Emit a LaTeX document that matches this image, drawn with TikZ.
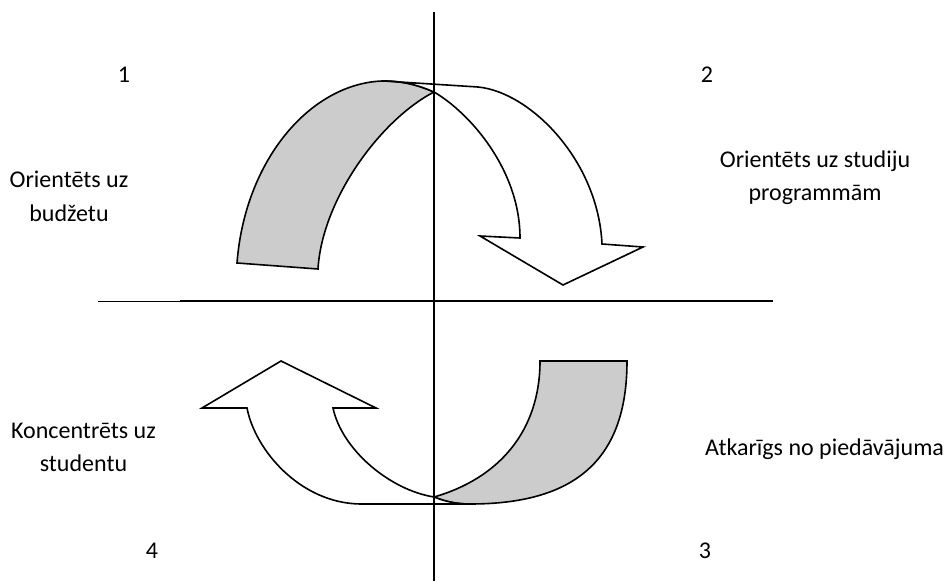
\documentclass[tikz,border=0pt]{standalone}
\usepackage{fontspec}
\setmainfont{Carlito}
\begin{document}
\begin{tikzpicture}[x=1pt,y=-1pt,
  lbl/.style={font=\fontsize{24}{33}\selectfont, inner sep=0pt},
  bl/.style={lbl, anchor=base},
  band/.style={draw=black, line width=1.6pt, line join=miter},
  axis/.style={draw=black, line width=1.4pt}]
\useasboundingbox (0,0) rectangle (947,585);
% top arrow: gray back side
\path[band, fill=black!20] (237,263) .. controls (245,160) and (310,84) .. (382,81)
  .. controls (405,81) and (420,86) .. (434,92)
  .. controls (380,120) and (322,200) .. (318,269) -- cycle;
% top arrow: white front
\path[band, fill=white] (384,81) -- (478,87) .. controls (530,92) and (598,160) .. (602,244)
  -- (643,247) -- (563,285) -- (480,236) -- (520,238)
  .. controls (520,170) and (470,113) .. (434,92)
  .. controls (420,86) and (405,81) .. (384,81) -- cycle;
% bottom arrow: gray
\path[band, fill=black!20] (540,361) -- (627,361) .. controls (627,460) and (575,504) .. (470,504)
  .. controls (455,504) and (444,501) .. (434,497)
  .. controls (500,478) and (540,430) .. (540,361) -- cycle;
% bottom arrow: white
\path[band, fill=white] (434,497) .. controls (444,501) and (455,504) .. (470,504)
  -- (360,504) .. controls (300,503) and (255,450) .. (247,408)
  -- (202,408) -- (281,361) -- (376,408) -- (333,408)
  .. controls (342,450) and (390,490) .. (434,497) -- cycle;
% axes
\draw[black, line width=0.9pt] (98,301) -- (180,301);
\draw[axis] (180,301) -- (773,301);
\draw[axis] (434,12) -- (434,581);
% labels
\node[lbl] (n1) at (124,75) {1};
\node[lbl] (n2) at (707,75) {2};
\node[lbl] (n4) at (152,551) {4};
\node[lbl] (n3) at (705,551) {3};
\node[bl] (q1a) at (69,188) {Orientēts uz};
\node[bl] (q1b) at (69,222) {budžetu};
\node[bl] (q2a) at (815,168) {Orientēts uz studiju};
\node[bl] (q2b) at (815,201) {programmām};
\node[bl] (q4a) at (83.5,438) {Koncentrēts uz};
\node[bl] (q4b) at (83.5,471) {studentu};
\node[lbl, anchor=base west] (q3) at (705,455) {Atkarīgs no piedāvājuma};
\end{tikzpicture}
\end{document}
